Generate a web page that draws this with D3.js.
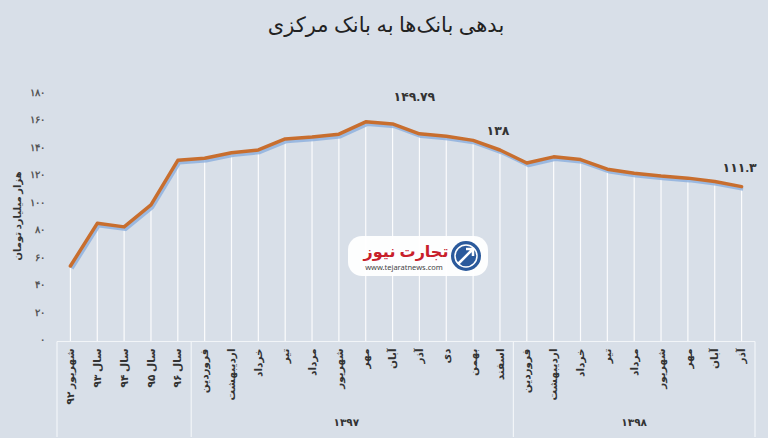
<!DOCTYPE html>
<html><head><meta charset="utf-8">
<script src="https://cdn.jsdelivr.net/npm/d3@7/dist/d3.min.js"></script>
<style>
html,body{margin:0;padding:0;background:#d8dfe8;}
svg{display:block;font-family:"Noto Sans","DejaVu Sans",sans-serif;}
</style></head>
<body>
<svg id="chart" width="768" height="438"></svg>
<script>
const title = "بدهی بانک‌ها به بانک مرکزی";
const yAxisTitle = "هزار میلیارد تومان";
const categories = ["شهریور ۹۲","سال ۹۳","سال ۹۴","سال ۹۵","سال ۹۶",
  "فروردین","اردیبهشت","خرداد","تیر","مرداد","شهریور","مهر","آبان","آذر","دی","بهمن","اسفند",
  "فروردین","اردیبهشت","خرداد","تیر","مرداد","شهریور","مهر","آبان","آذر"];
const values = [53.5,84.6,82,98,130.5,132,136,138,146,147.5,149.5,158.5,157,149.79,148,145,138,128.5,133,131,124,121,119,117.5,115,111.3];
const groups = [{label:"",start:0,end:4},{label:"۱۳۹۷",start:5,end:16},{label:"۱۳۹۸",start:17,end:25}];
const yTicks = [0,20,40,60,80,100,120,140,160,180];
const yTickLabels = ["۰","۲۰","۴۰","۶۰","۸۰","۱۰۰","۱۲۰","۱۴۰","۱۶۰","۱۸۰"];
const annotations = [{index:13,text:"۱۴۹.۷۹"},{index:16,text:"۱۳۸"},{index:25,text:"۱۱۱.۳"}];

(function(){
const svg = d3.select("#chart");
const pLeft=57,pRight=755,pTop=92.3,pBottom=339.5,axisBottom=437;

const x = d3.scaleBand().domain(d3.range(categories.length)).range([pLeft,pRight]).paddingInner(0).paddingOuter(0);
const y = d3.scaleLinear().domain([0,180]).range([pBottom,pTop]);
const cx = i => x(i)+x.bandwidth()/2;

svg.append("text").attr("x",386).attr("y",32).attr("text-anchor","middle")
  .attr("font-size",21).attr("fill","#222").attr("direction","rtl").text(title);

const yAxis = d3.axisLeft(y).tickValues(yTicks).tickSize(0).tickFormat((d,i)=>yTickLabels[i]);
const gy = svg.append("g").attr("transform",`translate(${pLeft-9},0)`).call(yAxis);
gy.select(".domain").remove();
gy.selectAll("text").attr("font-size",10).attr("fill","#555").attr("font-weight","bold").attr("font-family","inherit");

svg.append("text").attr("transform",`translate(17,${(pTop+pBottom)/2}) rotate(-90)`)
  .attr("text-anchor","middle").attr("font-size",10).attr("font-weight","bold").attr("fill","#333")
  .attr("dy","0.35em").text(yAxisTitle);

svg.append("g").selectAll("line").data(values).join("line")
  .attr("x1",(d,i)=>cx(i)).attr("x2",(d,i)=>cx(i))
  .attr("y1",d=>y(d)).attr("y2",pBottom+2)
  .attr("stroke","#ffffff").attr("stroke-opacity",0.9).attr("stroke-width",1.2);

const frame = svg.append("g").attr("stroke","#f2f5f8").attr("stroke-width",1.2);
frame.append("line").attr("x1",pLeft).attr("x2",pRight).attr("y1",pBottom+2).attr("y2",pBottom+2);
const bounds = [groups[0].start, ...groups.map(g=>g.end+1)];
bounds.forEach(b=>{
  const xx = b<categories.length ? x(b) : pRight;
  frame.append("line").attr("x1",xx).attr("x2",xx).attr("y1",pBottom+2).attr("y2",axisBottom);
});

svg.append("g").selectAll("text").data(categories).join("text")
  .attr("transform",(d,i)=>`translate(${cx(i)},${pBottom+9}) rotate(-90)`)
  .attr("text-anchor","end").attr("dy","0.35em")
  .attr("font-size",10.5).attr("font-weight","bold").attr("fill","#333").text(d=>d);

svg.append("g").selectAll("text").data(groups.filter(g=>g.label)).join("text")
  .attr("x",g=>(x(g.start)+ (g.end+1<categories.length?x(g.end+1):pRight))/2 - (g.label==="۱۳۹۷"?6:0))
  .attr("y",426).attr("text-anchor","middle")
  .attr("font-size",10.5).attr("font-weight","bold").attr("fill","#333").text(g=>g.label);

const line = d3.line().x((d,i)=>cx(i)).y(d=>y(d));
svg.append("path").datum(values).attr("d",line).attr("transform","translate(1.5,2.5)")
  .attr("fill","none").attr("stroke","#8fb2de").attr("stroke-width",3.5).attr("stroke-opacity",0.85)
  .attr("stroke-linejoin","round");
svg.append("path").datum(values).attr("d",line)
  .attr("fill","none").attr("stroke","#c86e2e").attr("stroke-width",3.5)
  .attr("stroke-linejoin","round").attr("stroke-linecap","round");

svg.append("g").selectAll("text").data(annotations).join("text")
  .attr("x",a=>cx(a.index)-(a.index===13?5:2))
  .attr("y",a=>y(values[a.index])-(a.index===13?33:15))
  .attr("text-anchor","middle").attr("font-size",12.5).attr("font-weight","bold").attr("fill","#333")
  .text(a=>a.text);

const logo = svg.append("g").attr("transform","translate(348,236)");
logo.append("rect").attr("width",140).attr("height",40).attr("rx",14).attr("fill","#ffffff").attr("fill-opacity",0.95);
logo.append("circle").attr("cx",118).attr("cy",20).attr("r",15).attr("fill","#2b5a9c");
logo.append("circle").attr("cx",118).attr("cy",20).attr("r",11).attr("fill","none").attr("stroke","#ffffff").attr("stroke-width",1.5);
logo.append("path").attr("d","M110,28 L124,14 M118,13 L125,13 L125,20").attr("stroke","#ffffff").attr("stroke-width",2.5).attr("fill","none");
logo.append("text").attr("x",58).attr("y",21).attr("text-anchor","middle").attr("font-size",16).attr("font-weight","bold")
  .attr("fill","#c8202a").attr("direction","rtl").text("تجارت نیوز");
logo.append("text").attr("x",56).attr("y",34).attr("text-anchor","middle").attr("font-size",7.5).attr("fill","#444").text("www.tejaratnews.com");
})();
</script>
</body></html>
